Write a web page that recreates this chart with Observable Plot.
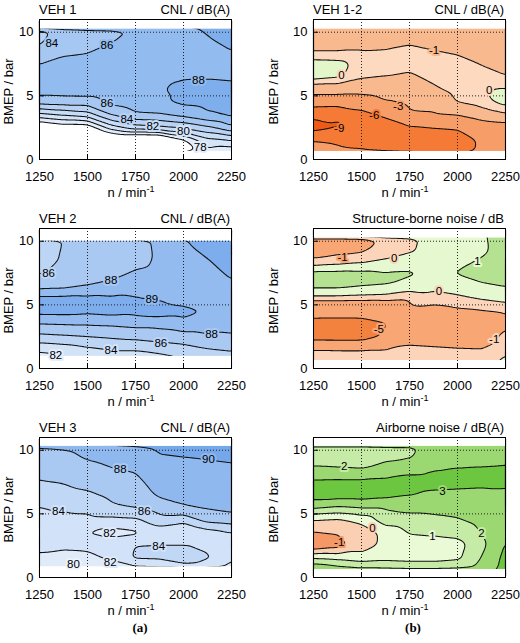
<!DOCTYPE html>
<html><head><meta charset="utf-8">
<script src="https://cdn.jsdelivr.net/npm/d3@7"></script>
<script src="https://cdn.jsdelivr.net/npm/@observablehq/plot@0.6"></script>
<style>
body{margin:0;background:#fff;}
#root{position:relative;width:520px;height:643px;overflow:hidden;background:#fff;}
#root svg{position:absolute;}
</style></head><body><div id="root"></div><script>
// ---- axes / grid values ----
const N_RPM = [1250, 1375, 1500, 1625, 1750, 1875, 2000, 2125, 2250];
const BMEP_ROWS = [0.6, 1.5, 2.5, 3.5, 4.5, 5.5, 6.5, 7.5, 8.5, 9.5, 10.3];
const X_TICKS = [1250, 1500, 1750, 2000, 2250];
const Y_TICKS = [0, 5, 10];
const X_GRID = [1500, 1750, 2000];
const Y_GRID = [5, 10];

// ---- VEH 1, CNL dB(A): one array per rpm column, values at BMEP_ROWS ----
const veh1Cols = [
  [65, 68, 73, 79.3, 84.8, 87.0, 86.7, 86.05, 84.4, 83.5, 83.2],
  [66, 69, 74.5, 80.2, 85.0, 87.0, 86.9, 86.3, 85.8, 85.3, 84.8],
  [66, 69, 74.5, 81.0, 85.0, 87.1, 87.0, 86.5, 85.9, 85.6, 85.3],
  [68, 72, 79, 84.1, 86.5, 87.3, 87.2, 86.9, 86.4, 85.8, 85.5],
  [67, 72, 81.1, 85.6, 87.2, 87.6, 87.5, 87.3, 87.0, 86.5, 86.2],
  [67, 72, 81.6, 85.8, 87.7, 87.9, 87.7, 87.5, 87.3, 87.0, 86.8],
  [74, 75.5, 82.3, 86.6, 88.4, 88.3, 87.9, 87.7, 87.6, 87.4, 87.3],
  [77.4, 79.3, 83.6, 87.7, 88.6, 88.4, 87.9, 87.8, 87.7, 87.9, 88.2],
  [76.5, 80, 85.5, 88.4, 88.8, 88.4, 87.8, 87.7, 87.95, 88.5, 88.8]
];
const veh1Levels = [76, 78, 80, 82, 84, 86, 88];
const veh1Colors = ["#e2edfb", "#d4e4f9", "#c6dcf7", "#b8d2f5", "#a6c7f2", "#92bbef", "#7eaeec"];
const veh1Labels = [
  {x: 1314, y: 9.13, t: "84", band: 84}, {x: 1601, y: 9.0, t: "86", band: 86},
  {x: 2078, y: 6.2, t: "88", band: 86}, {x: 1601, y: 4.39, t: "86", band: 84},
  {x: 1705, y: 3.16, t: "84", band: 82}, {x: 1840, y: 2.63, t: "82", band: 80},
  {x: 2000, y: 2.21, t: "80", band: 78}, {x: 2087, y: 0.97, t: "78", band: 76}
];

// ---- VEH 2, CNL dB(A) ----
const veh2Cols = [
  [80.5, 82.5, 85.4, 88.1, 89.3, 89.3, 87.6, 85.8, 85.3, 85.1, 85.0],
  [81.3, 82.9, 85.7, 88.2, 89.3, 89.3, 87.7, 86.6, 86.2, 86.1, 86.1],
  [82.0, 83.6, 86.0, 88.25, 89.2, 89.25, 88.05, 87.2, 86.8, 86.6, 86.5],
  [82.3, 84.1, 86.3, 88.35, 89.3, 89.15, 88.35, 87.6, 87.2, 87.0, 86.9],
  [82.9, 84.1, 86.6, 88.6, 89.2, 89.05, 88.7, 88.15, 87.6, 87.5, 87.8],
  [83.0, 84.6, 87.0, 88.6, 89.3, 88.95, 88.6, 88.35, 88.2, 88.25, 88.3],
  [83.6, 85.0, 87.5, 88.8, 89.2, 88.7, 88.5, 88.5, 88.6, 88.8, 88.95],
  [84.0, 85.9, 87.8, 88.7, 88.95, 88.5, 88.5, 88.6, 88.95, 89.3, 89.5],
  [84.5, 86.3, 87.9, 88.3, 88.4, 88.5, 88.8, 89.2, 89.5, 89.7, 89.8]
];
const veh2Levels = [80, 82, 84, 86, 88, 89];
const veh2Colors = ["#e4eefb", "#d2e3f8", "#bdd5f5", "#a9c8f2", "#94bbef", "#7dadec"];
const veh2Labels = [
  {x: 1297, y: 7.47, t: "86", band: 84}, {x: 1622, y: 6.95, t: "88", band: 86},
  {x: 1835, y: 5.45, t: "89", band: 88}, {x: 2146, y: 2.68, t: "88", band: 86},
  {x: 1882, y: 1.98, t: "86", band: 84}, {x: 1622, y: 1.43, t: "84", band: 82},
  {x: 1335, y: 1.07, t: "82", band: 80}
];

// ---- VEH 3, CNL dB(A) ----
const veh3Cols = [
  [79.6, 81.6, 82.5, 82.9, 83.4, 83.95, 85.0, 85.9, 86.5, 87.0, 87.4],
  [79.2, 81.2, 82.4, 82.8, 83.4, 84.3, 85.4, 86.1, 86.9, 87.5, 88.0],
  [79.4, 81.4, 82.5, 81.9, 83.4, 84.6, 85.7, 86.6, 87.4, 88.2, 88.6],
  [80.3, 82.4, 83.3, 81.2, 83.4, 85.7, 86.4, 87.2, 87.9, 88.6, 89.1],
  [80.8, 84.3, 84.05, 81.6, 83.6, 86.1, 86.9, 87.5, 88.2, 89.0, 89.7],
  [81.0, 84.4, 84.1, 82.7, 85.2, 86.9, 88.3, 88.9, 89.4, 89.9, 90.3],
  [81.0, 86.15, 84.1, 81.6, 84.7, 87.7, 88.9, 89.4, 89.7, 90.0, 90.4],
  [81.2, 84.3, 83.6, 83.0, 86.6, 88.2, 89.0, 89.5, 89.7, 90.1, 90.5],
  [81.0, 82.3, 82.9, 83.8, 87.0, 88.6, 89.2, 89.6, 89.8, 90.2, 90.7]
];
const veh3Levels = [78, 80, 82, 84, 86, 88, 90];
const veh3Colors = ["#edf3fc", "#e0ebfa", "#d2e2f8", "#c0d7f5", "#a9c9f2", "#8fb8ee", "#75a8eb"];
const veh3Labels = [
  {x: 2130, y: 9.29, t: "90", band: 88}, {x: 1670, y: 8.53, t: "88", band: 86},
  {x: 1795, y: 5.2, t: "86", band: 84}, {x: 1349, y: 5.2, t: "84", band: 82},
  {x: 1615, y: 3.5, t: "82", band: 80}, {x: 1871, y: 2.45, t: "84", band: 82},
  {x: 1427, y: 1.0, t: "80", band: 78}, {x: 1618, y: 1.21, t: "82", band: 80}
];

// ---- VEH 1-2 difference, CNL dB(A) ----
const diffCols = [
  [-4.5, -6.1, -10.0, -8.5, -4.5, -2.0, 0.5, 0.5, -1.0, -1.8, -2.0],
  [-5.3, -6.5, -9.2, -8.8, -4.6, -2.0, 0.2, 0.4, -1.0, -1.8, -2.0],
  [-5.5, -7.2, -8.8, -7.0, -4.3, -2.2, -0.8, -0.4, -0.98, -1.4, -2.1],
  [-5.8, -7.8, -7.9, -5.4, -3.2, -1.9, -1.02, -0.5, -0.9, -1.6, -1.9],
  [-6.1, -7.3, -6.4, -3.3, -2.6, -2.0, -1.3, -0.5, -0.7, -1.3, -1.6],
  [-7.2, -7.5, -6.0, -3.2, -2.3, -1.3, -0.6, -0.35, -0.95, -1.5, -1.8],
  [-7.3, -7.4, -5.7, -2.9, -0.95, -0.5, -0.3, -0.5, -1.2, -1.7, -2.0],
  [-5.5, -5.6, -4.5, -1.9, -0.4, -0.1, -0.5, -1.05, -1.6, -2.0, -2.2],
  [-4.5, -4.3, -4.2, -1.2, 0.4, 0.1, -0.9, -1.6, -2.0, -2.2, -2.3]
];
const diffLevels = [-12, -9, -6, -3, -1, 0];
const diffColors = ["#ef5a14", "#f47a36", "#f79d68", "#f9b98f", "#fcd9bf", "#e3f6c9"];
const diffLabels = [
  {x: 1878, y: 8.6, t: "-1", band: -3}, {x: 1396, y: 6.6, t: "0", band: -1},
  {x: 2165, y: 5.45, t: "0", band: -1}, {x: 1691, y: 4.2, t: "-3", band: -6},
  {x: 1566, y: 3.5, t: "-6", band: -9}, {x: 1384, y: 2.42, t: "-9", band: -9}
];

// ---- Structure-borne noise, dB ----
const sbnCols = [
  [0.1, -0.9, -6.5, -5.8, -4.0, -0.3, 1.3, 1.3, -0.9, -1.6, -1.8],
  [-0.3, -0.9, -6.6, -5.9, -4.0, -0.3, 1.3, 1.3, -0.6, -1.5, -1.8],
  [-0.35, -0.9, -6.6, -5.9, -3.9, -0.4, 1.1, 1.25, -0.3, -1.4, -1.6],
  [-0.3, -0.85, -4.7, -5.2, -3.2, -0.5, 1.02, 1.1, 0.05, -0.5, -0.7],
  [0.15, -0.7, -1.6, -2.2, -1.3, -0.8, 0.6, 1.15, 0.3, -0.2, -0.4],
  [-0.3, -0.8, -1.7, -2.3, -1.6, -0.4, 0.3, 0.8, 0.6, 0.5, 0.5],
  [-0.4, -0.9, -1.8, -2.2, -1.25, -0.25, 0.6, 1.05, 0.75, 0.7, 0.7],
  [-0.4, -0.95, -1.9, -1.9, -1.1, 0.1, 0.85, 1.4, 1.05, 0.8, 0.85],
  [0.2, -0.2, -0.6, -1.3, -0.9, 0.4, 1.05, 1.4, 1.5, 1.5, 1.5]
];
const sbnLevels = [-8, -5, -1, 0, 1];
const sbnColors = ["#f4823f", "#f8a674", "#fbd4b9", "#e6f8cf", "#b5e290"];
const sbnLabels = [
  {x: 1401, y: 8.7, t: "-1", band: -5}, {x: 1670, y: 8.65, t: "0", band: -1},
  {x: 2104, y: 8.39, t: "1", band: 0}, {x: 1904, y: 6.1, t: "0", band: -1},
  {x: 1590, y: 3.1, t: "-5", band: -5}, {x: 2191, y: 2.3, t: "-1", band: -1}
];

// ---- Airborne noise, dB(A) ----
const abnCols = [
  [3.1, 1.0, -1.8, -1.1, -0.05, 2.2, 3.5, 3.2, 2.1, 1.7, 1.6],
  [2.6, 0.8, -1.4, -0.95, -0.2, 1.9, 3.5, 3.25, 2.05, 1.7, 1.6],
  [2.3, 0.5, -0.5, -0.6, 0.3, 2.1, 3.5, 3.25, 1.98, 1.7, 1.6],
  [2.2, 0.7, 0.3, 0.3, 1.5, 2.1, 3.3, 3.3, 2.3, 1.8, 1.7],
  [2.1, 0.6, 0.5, 1.05, 1.6, 2.3, 3.05, 3.4, 2.7, 1.9, 1.7],
  [2.1, 0.6, 0.5, 1.15, 1.75, 2.3, 2.8, 3.35, 2.95, 2.6, 2.5],
  [2.2, 0.8, 0.6, 1.3, 1.9, 2.4, 2.75, 3.3, 3.05, 2.6, 2.5],
  [2.5, 2.05, 1.75, 2.02, 2.3, 2.5, 2.7, 3.25, 3.1, 2.6, 2.5],
  [3.4, 3.3, 3.1, 2.9, 2.6, 2.6, 2.8, 3.2, 3.15, 2.7, 2.6]
];
const abnLevels = [-3, -1, 0, 1, 2, 3];
const abnColors = ["#f59865", "#fbcfb2", "#eaf9d6", "#c6eba6", "#9bd872", "#6cc63f"];
const abnLabels = [
  {x: 1410, y: 8.7, t: "2", band: 1}, {x: 1922, y: 6.8, t: "3", band: 2},
  {x: 1557, y: 3.9, t: "0", band: -1}, {x: 1870, y: 3.26, t: "1", band: 0},
  {x: 2125, y: 3.5, t: "2", band: 1}, {x: 1384, y: 2.75, t: "-1", band: -3}
];

const panels = [
  {col: 0, row: 0, cols: veh1Cols, levels: veh1Levels, colors: veh1Colors, labels: veh1Labels, extent: [0.63, 10.24], tl: "VEH 1", tr: "CNL / dB(A)"},
  {col: 1, row: 0, cols: diffCols, levels: diffLevels, colors: diffColors, labels: diffLabels, extent: [0.63, 10.24], tl: "VEH 1-2", tr: "CNL / dB(A)"},
  {col: 0, row: 1, cols: veh2Cols, levels: veh2Levels, colors: veh2Colors, labels: veh2Labels, extent: [0.95, 10.0], tl: "VEH 2", tr: "CNL / dB(A)"},
  {col: 1, row: 1, cols: sbnCols, levels: sbnLevels, colors: sbnColors, labels: sbnLabels, extent: [0.63, 10.25], tl: "", tr: "Structure-borne noise / dB"},
  {col: 0, row: 2, cols: veh3Cols, levels: veh3Levels, colors: veh3Colors, labels: veh3Labels, extent: [0.84, 10.3], tl: "VEH 3", tr: "CNL / dB(A)"},
  {col: 1, row: 2, cols: abnCols, levels: abnLevels, colors: abnColors, labels: abnLabels, extent: [0.63, 10.3], tl: "", tr: "Airborne noise / dB(A)"}
];

// ---- layout ----
const FONT = "'Liberation Sans', Arial, Helvetica, sans-serif";
const root = document.getElementById("root");
const FRAME_W = 192, FRAME_H = 140, MT = 10, MB = 32, SVG_W = 260;
const COL_X = [39, 313];
const ROW_Y = [19, 228, 437];

for (const p of panels) {
  const data = [];
  p.cols.forEach((c, i) => c.forEach((v, j) => data.push({x: N_RPM[i], y: BMEP_ROWS[j], v})));
  const left = p.col * SVG_W;
  const ml = COL_X[p.col] - left;
  const mr = SVG_W - ml - FRAME_W;
  const masks = [{y1: 0, y2: p.extent[0]}, {y1: p.extent[1], y2: 11}];
  const co = {x: "x", y: "y", value: "v", thresholds: p.levels, interpolate: "barycentric", blur: 2, pixelSize: 1};
  const svg = Plot.plot({
    width: SVG_W, height: MT + FRAME_H + MB,
    marginLeft: ml, marginRight: mr, marginTop: MT, marginBottom: MB,
    x: {domain: [1250, 2250], label: null},
    y: {domain: [0, 11], label: null},
    color: {type: "ordinal", domain: p.levels, range: p.colors},
    style: {fontFamily: FONT, fontSize: "13px", color: "black", background: "transparent", overflow: "visible"},
    marks: [
      Plot.contour(data, {...co, fill: "value", stroke: "none"}),
      Plot.contour(data, {...co, fill: "none", stroke: "#111", strokeWidth: 1.05}),
      Plot.rect(masks, {x1: 1250, x2: 2250, y1: "y1", y2: "y2", fill: "white"}),
      Plot.ruleX(X_GRID, {x: d => d, stroke: "#222", strokeDasharray: "1,2"}),
      Plot.ruleY(Y_GRID, {y: d => d, stroke: "#222", strokeDasharray: "1,2"}),
      Plot.tickX(X_GRID, {x: d => d, insetTop: FRAME_H - 5, stroke: "black"}),
      Plot.tickY(Y_GRID, {y: d => d, insetRight: FRAME_W - 5, stroke: "black"}),
      Plot.text(p.labels, {x: "x", y: "y", text: "t", fill: "black", stroke: "band", strokeWidth: 4, strokeLinejoin: "round", paintOrder: "stroke", fontSize: 11.5, fontFamily: FONT}),
      Plot.frame({stroke: "black", strokeWidth: 1}),
      Plot.axisX(X_TICKS, {tickSize: 0, tickPadding: 12, tickFormat: d => String(d), label: null}),
      Plot.axisY(Y_TICKS, {tickSize: 0, tickPadding: 6, label: null})
    ]
  });
  svg.style.left = left + "px";
  svg.style.top = (ROW_Y[p.row] - MT) + "px";
  root.appendChild(svg);
}

// ---- titles and axis labels overlay ----
const ov = d3.select(root).append("svg")
  .attr("width", 520).attr("height", 643)
  .style("left", "0px").style("top", "0px").style("pointer-events", "none")
  .attr("font-family", FONT).attr("font-size", 13).attr("fill", "black");

const YLAB_X = [13, 278];
for (const p of panels) {
  const fl = COL_X[p.col], ft = ROW_Y[p.row];
  if (p.tl) ov.append("text").attr("x", fl).attr("y", ft - 5.5).text(p.tl);
  ov.append("text").attr("x", fl + FRAME_W - 1).attr("y", ft - 5.5).attr("text-anchor", "end").text(p.tr);
  const cy = ft + FRAME_H / 2 + 2.5;
  ov.append("text").attr("transform", `translate(${YLAB_X[p.col]},${cy}) rotate(-90)`)
    .attr("text-anchor", "middle").text("BMEP / bar");
  const xl = ov.append("text").attr("x", fl + FRAME_W / 2 - 4).attr("y", ft + FRAME_H + 37.5).attr("text-anchor", "middle");
  xl.append("tspan").text("n / min");
  xl.append("tspan").attr("dy", -5).attr("font-size", 9).text("-1");
}
ov.append("text").attr("x", 140).attr("y", 632).attr("text-anchor", "middle")
  .attr("font-family", "'Liberation Serif', 'Times New Roman', serif").attr("font-weight", "bold").text("(a)");
ov.append("text").attr("x", 413).attr("y", 632).attr("text-anchor", "middle")
  .attr("font-family", "'Liberation Serif', 'Times New Roman', serif").attr("font-weight", "bold").text("(b)");
</script></body></html>
